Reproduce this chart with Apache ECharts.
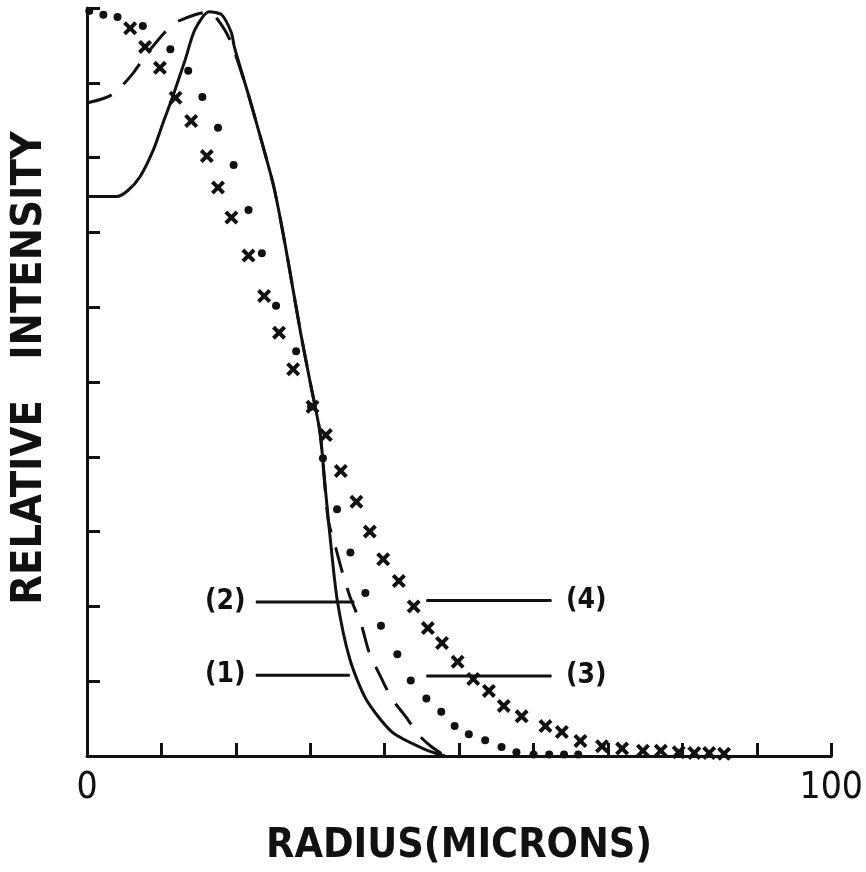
<!DOCTYPE html>
<html>
<head>
<meta charset="utf-8">
<script src="https://cdn.jsdelivr.net/npm/echarts@6/dist/echarts.min.js"></script>
<style>html,body{margin:0;padding:0;background:#fff;}#c{width:866px;height:872px;}</style>
</head>
<body>
<div id="c"></div>
<script>
// ---- data (radius in microns, relative intensity in %) ----
const curve1 = [[0,74.8],[4.0,74.8],[5.5,75.6],[7.1,77.4],[8.9,81.0],[10.2,84.6],[11.5,88.1],[13.2,93.1],[14.5,97.1],[16.4,99.5],[18.1,99.1],[19.4,96.7],[19.8,94.8],[21.6,88.7],[23.4,82.4],[25.1,76.1],[26.6,68.5],[28.7,56.6],[30.0,49.9],[31.3,43.3],[32.0,36.0],[32.6,29.9],[33.6,21.0],[35.3,13.0],[37.5,7.6],[41.0,3.2],[45.4,0.9],[48.1,0]];
const curve2 = [[0,87.3],[2.2,87.9],[3.8,88.7],[6.2,91.3],[7.9,93.7],[10.4,96.7],[11.8,98.0],[14.5,99.1],[16.4,99.5],[18.1,97.7],[19.4,95.3],[21.6,88.7],[23.4,82.4],[25.1,76.1],[26.6,68.5],[28.7,56.6],[30.0,49.9],[31.3,43.3],[32.4,31.6],[33.3,28.3],[34.3,24.6],[35.3,21.4],[36.9,17.4],[37.9,13.9],[39.6,10.3],[41.0,7.6],[42.8,5.3],[44.5,2.9],[46.2,1.3],[48.1,0]];
const points3 = [[0.3,99.6],[2.2,99.1],[4.1,98.8],[7.5,97.6],[11.2,94.5],[13.6,91.6],[15.5,88.1],[17.6,84.0],[19.7,79.0],[21.7,73.0],[23.5,67.2],[25.4,60.2],[28.1,54.1],[30.1,46.7],[31.7,39.8],[33.6,33.0],[35.4,27.2],[37.4,21.8],[39.5,17.4],[41.7,13.6],[43.5,10.1],[45.6,7.7],[47.6,5.9],[49.4,4.0],[51.3,2.9],[53.5,2.1],[55.7,1.2],[57.7,0.5],[60.0,0.2],[62.1,0.2],[64.1,0.2],[66.0,0.2]];
const points4 = [[5.8,97.3],[7.8,94.8],[9.8,92.0],[11.9,88.0],[14.0,84.9],[16.1,80.2],[17.6,76.0],[19.4,72.0],[21.7,66.9],[23.8,61.5],[25.8,56.6],[27.7,51.7],[30.3,46.7],[32.1,42.9],[34.1,38.1],[36.2,34.0],[38.0,30.0],[39.8,26.3],[41.9,23.4],[43.9,20.0],[45.8,17.1],[47.7,15.1],[49.8,12.6],[51.9,10.3],[54.0,8.7],[56.0,6.7],[58.4,5.3],[61.6,4.0],[63.8,3.2],[66.3,2.0],[69.2,1.3],[71.9,1.0],[74.7,0.7],[77.1,0.7],[79.5,0.5],[81.6,0.4],[83.6,0.4],[85.6,0.3]];
const legendLabels = ['(1)','(2)','(3)','(4)'];
const leaderLines = [ // [xStart, xEnd, y]
  [22.7,35.3,10.8],
  [22.7,35.9,20.6],
  [45.6,62.4,10.7],
  [45.6,62.4,20.8]
];
const xTickLabels = {0:'0',100:'100'};

const INK = '#111';
const FONT = "'DejaVu Sans Condensed','Liberation Sans Narrow','DejaVu Sans',sans-serif";
const crossPath = 'path://M2,0 L5,3 L8,0 L10,2 L7,5 L10,8 L8,10 L5,7 L2,10 L0,8 L3,5 L0,2 Z';

const leaderSeries = leaderLines.map((l,i) => {
  const leftSide = i < 2;
  const lab = {show:true, formatter: legendLabels[i], position: leftSide?'left':'right', distance: leftSide?10:14,
    color: INK, fontFamily: FONT, fontWeight:'bold', fontSize: 28};
  const a = {value:[l[0], l[2]]}, b = {value:[l[1], l[2]]};
  if (leftSide) a.label = lab; else b.label = lab;
  return {type:'line', data:[a,b], symbol:'circle', symbolSize:1, showSymbol:true,
    itemStyle:{color:INK}, lineStyle:{color:INK, width:3}, label:{show:false}, z:3, silent:true};
});

const chart = echarts.init(document.getElementById('c'), null, {renderer:'canvas'});
chart.setOption({
  animation:false,
  backgroundColor:'#fff',
  grid:{left:82, right:27, top:8, bottom:115, containLabel:false},
  xAxis:{type:'value', min:0, max:100, interval:10,
    axisLine:{show:true, onZero:false, lineStyle:{color:INK, width:3}},
    axisTick:{show:true, inside:true, length:13, lineStyle:{color:INK, width:3}},
    splitLine:{show:false},
    axisLabel:{show:true, margin:14, color:INK, fontFamily:FONT, fontSize:37,
      formatter: v => xTickLabels[v] !== undefined ? xTickLabels[v] : ''},
    name:'RADIUS(MICRONS)', nameLocation:'middle', nameGap:70,
    nameTextStyle:{color:INK, fontFamily:FONT, fontWeight:'bold', fontSize:41}
  },
  yAxis:{type:'value', min:0, max:100, interval:10,
    axisLine:{show:true, onZero:false, lineStyle:{color:INK, width:3}},
    axisTick:{show:true, inside:true, length:13, lineStyle:{color:INK, width:3}},
    splitLine:{show:false}, axisLabel:{show:false},
    name:'RELATIVE   INTENSITY', nameLocation:'middle', nameGap:36, nameRotate:90,
    nameTextStyle:{color:INK, fontFamily:FONT, fontWeight:'bold', fontSize:43, padding:[0,0,0,28]}
  },
  series:[
    {type:'line', data:curve1, smooth:0.25, symbol:'none', lineStyle:{color:INK, width:3}, z:2},
    {type:'line', data:curve2, smooth:0.25, symbol:'none', lineStyle:{color:INK, width:3, type:[26,16]}, z:2},
    {type:'scatter', data:points3, symbol:'circle', symbolSize:8, itemStyle:{color:INK, opacity:1}, z:4},
    {type:'scatter', data:points4, symbol:crossPath, symbolSize:14, itemStyle:{color:INK, opacity:1}, z:4}
  ].concat(leaderSeries)
});
</script>
</body>
</html>
